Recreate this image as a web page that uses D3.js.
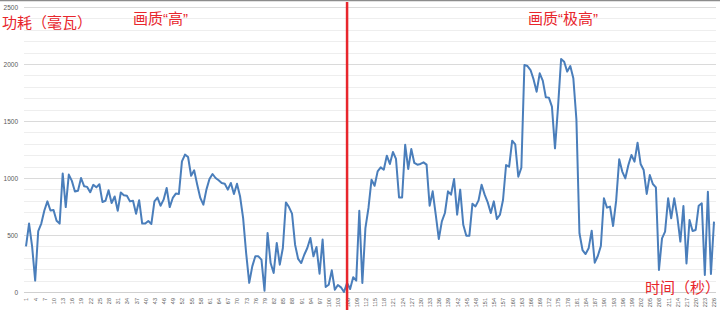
<!DOCTYPE html>
<html>
<head>
<meta charset="utf-8">
<script src="https://cdn.jsdelivr.net/npm/d3@7"></script>
<style>
  body { margin: 0; background: #fff; }
  svg { display: block; }
  .cn { font-family: "Liberation Sans", "Noto Sans CJK SC", sans-serif; fill: #e8262c; }
</style>
</head>
<body>
<div class="js-chart"></div>
<script>
// power (mW) per second
var power = [
  400, 600, 400, 100, 535, 600, 715, 795, 715, 720,
  625, 600, 1040, 745, 1030, 975, 882, 888, 1000, 928,
  922, 875, 940, 918, 945, 790, 800, 893, 780, 838,
  712, 873, 848, 845, 795, 800, 687, 805, 600, 600,
  623, 597, 795, 828, 757, 810, 912, 745, 825, 863,
  860, 1146, 1205, 1184, 1020, 1067, 941, 825, 766, 898,
  991, 1035, 1000, 980, 956, 950, 898, 956, 860, 950,
  840, 650, 340, 80, 225, 313, 313, 284, 12, 518,
  254, 167, 430, 240, 386, 786, 745, 687, 415, 290,
  254, 327, 386, 474, 313, 395, 160, 460, 44, 64,
  190, 20, 61, 41, 0, 80, 26, 130, 100, 713,
  80, 560, 737, 985, 932, 1058, 1093, 1073, 1196, 1123,
  1228, 1167, 830, 830, 1292, 1079, 1254, 1132, 1117, 1123,
  1137, 1117, 757, 883, 678, 465, 620, 693, 883, 854,
  991, 678, 898, 590, 494, 494, 775, 751, 804, 941,
  854, 786, 693, 795, 640, 678, 807, 1114, 1099, 1327,
  1295, 1012, 1090, 1991, 1982, 1947, 1865, 1757, 1918, 1854,
  1708, 1705, 1626, 1260, 1626, 2044, 2020, 1933, 1982, 1874,
  1515, 515, 368, 333, 383, 538, 257, 316, 404, 822,
  740, 749, 579, 801, 1164, 1056, 997, 1114, 1202, 1143,
  1310, 1123, 1070, 860, 1026, 947, 918, 193, 471, 529,
  822, 646, 822, 661, 442, 754, 251, 632, 535, 544,
  757, 778, 149, 880, 158, 617
];
var seconds = power.map(function (d, i) { return i + 1; });
var yTicks = [0, 500, 1000, 1500, 2000, 2500];
var yMinor = d3.range(0, 2501, 100);
var switchSecond = 106;
var labels = [
  { text: '功耗（毫瓦）', x: 2, y: 28 },
  { text: '画质“高”', x: 133, y: 24 },
  { text: '画质“极高”', x: 528, y: 24 },
  { text: '时间（秒）', x: 645, y: 293 }
];

var width = 720;
var height = 310;
var x0 = 26, x1 = 714, yTop = 7, yBottom = 292;

var svg = d3.select('.js-chart').append('svg')
  .attr('width', width)
  .attr('height', height);

var x = d3.scalePoint().domain(seconds).range([x0, x1]);
var y = d3.scaleLinear().domain([0, 2500]).range([yBottom, yTop]);

// frame line at the very top
svg.append('line')
  .attr('x1', 0).attr('x2', width)
  .attr('y1', 0.5).attr('y2', 0.5)
  .attr('stroke', '#8c8c8c').attr('stroke-width', 1.5);

// minor grid
svg.append('g').selectAll('line')
  .data(yMinor.filter(function (d) { return d % 500 !== 0; }))
  .enter().append('line')
  .attr('x1', 24).attr('x2', 716)
  .attr('y1', function (d) { return Math.round(y(d)) + 0.5; })
  .attr('y2', function (d) { return Math.round(y(d)) + 0.5; })
  .attr('stroke', '#eeeeee');

// major grid + y labels
var yAxis = d3.axisLeft(y).tickValues(yTicks).tickFormat(d3.format('d'))
  .tickSize(-692).tickPadding(6);
var gy = svg.append('g').attr('transform', 'translate(24,0)').call(yAxis);
gy.select('.domain').remove();
gy.selectAll('line').attr('stroke', '#dadada');
gy.selectAll('text')
  .attr('fill', '#595959')
  .style('font-family', '"Liberation Sans", Arial, sans-serif')
  .style('font-size', '6.5px');

// x axis
var xAxis = d3.axisBottom(x)
  .tickValues(seconds.filter(function (d) { return (d - 1) % 3 === 0; }))
  .tickSize(0);
var gx = svg.append('g').attr('transform', 'translate(0,' + yBottom + ')').call(xAxis);
gx.select('.domain').attr('stroke', '#d0d0d0').attr('d', 'M24,0.5H716');
gx.selectAll('text')
  .attr('fill', '#595959')
  .style('font-family', '"Liberation Sans", Arial, sans-serif')
  .style('font-size', '5.5px')
  .attr('text-anchor', 'end')
  .attr('dy', '0.35em')
  .attr('transform', 'translate(0,6) rotate(-90)')
  .attr('x', 0).attr('y', 0);

// power line
var line = d3.line()
  .x(function (d, i) { return x(seconds[i]); })
  .y(function (d) { return y(d); });
svg.append('path')
  .datum(power)
  .attr('fill', 'none')
  .attr('stroke', '#4a7ebb')
  .attr('stroke-width', 2)
  .attr('stroke-linejoin', 'round')
  .attr('d', line);

// quality switch marker
svg.append('line')
  .attr('x1', x(switchSecond)).attr('x2', x(switchSecond))
  .attr('y1', 2).attr('y2', height)
  .attr('stroke', '#e8262c').attr('stroke-width', 2.5);

svg.append('g').selectAll('text')
  .data(labels)
  .enter().append('text')
  .attr('class', 'cn')
  .attr('x', function (d) { return d.x; })
  .attr('y', function (d) { return d.y; })
  .style('font-size', '15px')
  .text(function (d) { return d.text; });
</script>
</body>
</html>
